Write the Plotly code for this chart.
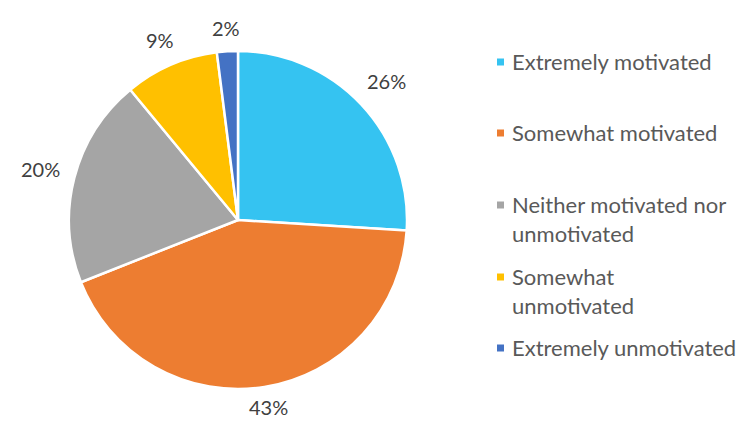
import math
import plotly.graph_objects as go

categories = [
    "Extremely motivated",
    "Somewhat motivated",
    "Neither motivated nor unmotivated",
    "Somewhat unmotivated",
    "Extremely unmotivated",
]
legend_labels = [
    "Extremely motivated",
    "Somewhat motivated",
    "Neither motivated nor<br>unmotivated",
    "Somewhat<br>unmotivated",
    "Extremely unmotivated",
]
shares = [26, 43, 20, 9, 2]
colors = ["#35C3F1", "#ED7D31", "#A5A5A5", "#FFC000", "#4472C4"]

W, H = 741, 421
FONT = "Lato"
CX, CY, R = 238, 220, 169  # pie centre / radius in pixels

fig = go.Figure(
    go.Pie(
        labels=categories,
        values=shares,
        sort=False,
        direction="clockwise",
        rotation=0,
        marker=dict(colors=colors, line=dict(color="white", width=2.5)),
        textinfo="none",
        showlegend=False,
        hoverinfo="label+percent",
        domain=dict(x=[(CX - R) / W, (CX + R) / W],
                    y=[(H - CY - R) / H, (H - CY + R) / H]),
    )
)

annotations, shapes = [], []

# Percentage labels sit just outside each slice, along its bisector
total = sum(shares)
cum = 0
for v in shares:
    mid = (cum + v / 2) / total * 2 * math.pi
    cum += v
    ux, uy = math.sin(mid), -math.cos(mid)
    text = f"{v}%"
    half_w = 6.5 * len(text)
    half_h = 9
    dist = R + 14 + half_w * abs(ux) + half_h * abs(uy)
    px, py = CX + dist * ux, CY + dist * uy
    py = min(py, H - 14)  # keep the bottom label inside the page
    annotations.append(dict(
        xref="paper", yref="paper", x=px / W, y=1 - py / H,
        xanchor="center", yanchor="middle", text=text, showarrow=False,
        font=dict(family=FONT, size=20, color="#404040"),
    ))

# Legend: colour square + wrapped label per category
row_centres = [62, 133, 205, 277, 348]
for label, color, yc in zip(legend_labels, colors, row_centres):
    shapes.append(dict(
        type="rect", xref="paper", yref="paper",
        x0=497 / W, x1=504 / W,
        y0=1 - (yc + 3.5) / H, y1=1 - (yc - 3.5) / H,
        fillcolor=color, line=dict(width=0),
    ))
    annotations.append(dict(
        xref="paper", yref="paper", x=510 / W, y=1 - (yc - 16) / H,
        xanchor="left", yanchor="top", align="left",
        text=label, showarrow=False,
        font=dict(family=FONT, size=22, color="#595959"),
    ))

fig.update_layout(
    width=W, height=H,
    margin=dict(l=0, r=0, t=0, b=0),
    paper_bgcolor="white", plot_bgcolor="white",
    shapes=shapes, annotations=annotations,
)

fig.write_html("out.html")
